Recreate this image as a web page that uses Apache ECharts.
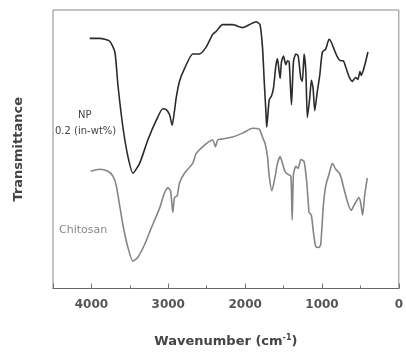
<!DOCTYPE html>
<html>
<head>
<meta charset="utf-8">
<script src="https://cdn.jsdelivr.net/npm/echarts@6/dist/echarts.min.js"></script>
<style>
  html, body { margin: 0; padding: 0; background: #fff; }
  #chart { width: 406px; height: 353px; }
</style>
</head>
<body>
<div id="chart"></div>
<script>
// wavenumber (cm-1) / transmittance (arbitrary units, offset traces)
const npWavenumber = [4022, 3892, 3762, 3695, 3655, 3590, 3525, 3460, 3373, 3266, 3157, 3071, 3027, 2984, 2949, 2919, 2897, 2854, 2789, 2682, 2595, 2508, 2422, 2378, 2293, 2163, 2033, 1946, 1859, 1807, 1774, 1752, 1729, 1719, 1687, 1657, 1631, 1600, 1579, 1557, 1544, 1527, 1501, 1470, 1449, 1427, 1397, 1371, 1340, 1310, 1275, 1255, 1233, 1210, 1190, 1159, 1138, 1116, 1094, 1060, 1029, 995, 951, 908, 878, 843, 800, 756, 723, 692, 649, 606, 562, 532, 506, 489, 463, 432, 402];
const npValues = [256, 256, 253, 242, 208, 165, 135, 118, 128, 152, 172, 184, 183, 178, 167, 182, 195, 212, 225, 240, 240, 247, 260, 263, 270, 270, 267, 270, 273, 270, 247, 213, 180, 165, 193, 197, 205, 228, 235, 222, 215, 232, 238, 229, 233, 232, 188, 232, 240, 238, 215, 212, 240, 222, 175, 195, 213, 205, 182, 202, 218, 242, 245, 255, 252, 245, 237, 233, 233, 227, 217, 212, 216, 214, 222, 218, 223, 232, 242];

const chitosanWavenumber = [4009, 3892, 3785, 3720, 3676, 3633, 3590, 3525, 3460, 3395, 3308, 3221, 3114, 3049, 3006, 2971, 2941, 2919, 2884, 2854, 2789, 2682, 2638, 2508, 2422, 2387, 2357, 2293, 2163, 2033, 1903, 1816, 1774, 1739, 1709, 1687, 1652, 1609, 1579, 1544, 1514, 1483, 1449, 1405, 1388, 1371, 1340, 1310, 1275, 1233, 1197, 1168, 1138, 1112, 1081, 1038, 1016, 982, 951, 908, 865, 821, 765, 714, 662, 619, 584, 519, 497, 471, 445, 411];
const chitosanValues = [120, 122, 120, 115, 105, 85, 65, 42, 28, 32, 45, 62, 82, 98, 103, 100, 78, 93, 95, 108, 118, 128, 138, 148, 152, 145, 152, 153, 155, 159, 164, 163, 155, 148, 135, 115, 100, 115, 128, 135, 128, 120, 117, 115, 70, 117, 125, 123, 132, 130, 108, 78, 75, 58, 43, 42, 45, 85, 105, 117, 128, 122, 117, 102, 87, 80, 85, 93, 88, 75, 95, 113];

const seriesLabels = ['NP', '0.2 (in-wt%)', 'Chitosan'];

const pair = (xs, ys) => xs.map((x, i) => [x, ys[i]]);

const chart = echarts.init(document.getElementById('chart'));

const option = {
  backgroundColor: '#fff',
  animation: false,
  grid: {
    left: 53,
    right: 6,
    top: 10,
    bottom: 58,
    show: true,
    borderColor: '#888',
    borderWidth: 1,
  },
  xAxis: {
    type: 'value',
    inverse: true,
    min: 0,
    max: 4500,
    interval: 1000,
    name: 'Wavenumber (cm{sup|-1})',
    nameLocation: 'middle',
    nameGap: 45,
    nameTextStyle: {
      fontFamily: 'DejaVu Sans',
      fontWeight: 'bold',
      fontSize: 13,
      color: '#444',
      rich: {
        sup: { fontSize: 8, fontWeight: 'bold', color: '#444', verticalAlign: 'top', padding: [0, 0, 8, 0] },
      },
    },
    axisLine: { lineStyle: { color: '#666' } },
    axisTick: { inside: true, length: 5, lineStyle: { color: '#777' } },
    minorTick: { show: true, splitNumber: 2, length: 3, lineStyle: { color: '#777' } },
    splitLine: { show: false },
    axisLabel: {
      fontFamily: 'DejaVu Sans',
      fontWeight: 'bold',
      fontSize: 12,
      color: '#555',
      margin: 10,
      formatter: (v) => (v % 1000 === 0 ? String(v) : ''),
    },
  },
  yAxis: {
    type: 'value',
    min: 0,
    max: 285,
    name: 'Transmittance',
    nameLocation: 'middle',
    nameGap: 28,
    nameTextStyle: {
      fontFamily: 'DejaVu Sans',
      fontWeight: 'bold',
      fontSize: 13,
      color: '#444',
    },
    axisLine: { show: false },
    axisTick: { show: false },
    axisLabel: { show: false },
    splitLine: { show: false },
  },
  graphic: [
    { type: 'text', left: 78, top: 110, style: { text: seriesLabels[0], fontFamily: 'DejaVu Sans', fontSize: 10, fill: '#444' } },
    { type: 'text', left: 55, top: 126, style: { text: seriesLabels[1], fontFamily: 'DejaVu Sans', fontSize: 10, fill: '#444' } },
    { type: 'text', left: 59, top: 225, style: { text: seriesLabels[2], fontFamily: 'DejaVu Sans', fontSize: 11, fill: '#888' } },
  ],
  series: [
    {
      type: 'line',
      data: pair(npWavenumber, npValues),
      showSymbol: false,
      smooth: 0.2,
      lineStyle: { color: '#2b2b2b', width: 1.6 },
    },
    {
      type: 'line',
      data: pair(chitosanWavenumber, chitosanValues),
      showSymbol: false,
      smooth: 0.2,
      lineStyle: { color: '#858585', width: 1.6 },
    },
  ],
};

chart.setOption(option);
</script>
</body>
</html>
